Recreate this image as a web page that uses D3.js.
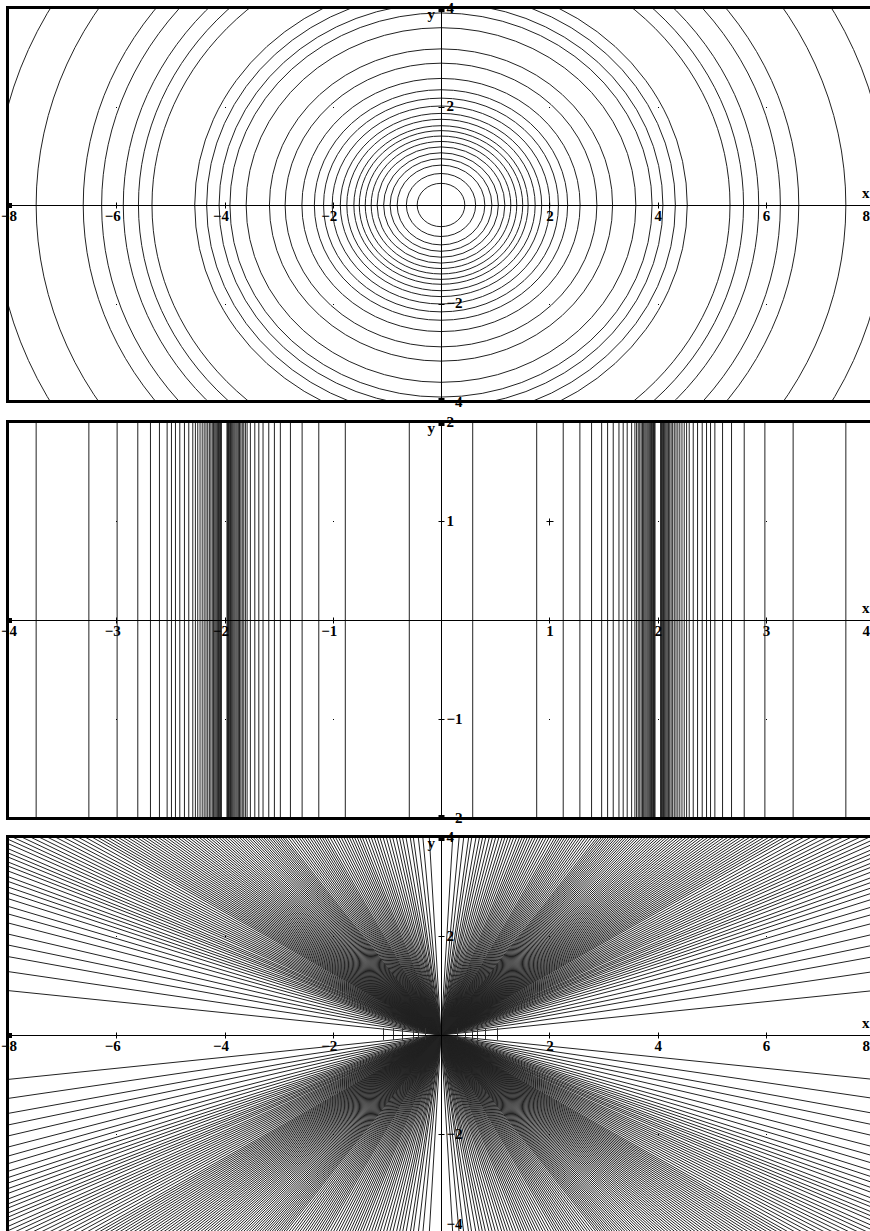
<!DOCTYPE html>
<html>
<head>
<meta charset="utf-8">
<script src="https://cdn.jsdelivr.net/npm/d3@7"></script>
<style>
  body { margin: 0; background: #fff; }
  svg { display: block; }
  .lbl { font-family: "Liberation Serif", serif; font-weight: bold; font-size: 15px; fill: #000; }
</style>
</head>
<body>
<div id="chart"></div>
<script>
// panel 1: radii of the circular contours (read where they cross the x axis)
const ringRadii = [0.44, 0.64, 0.81, 0.94, 1.06, 1.18, 1.29, 1.40, 1.51, 1.61, 1.74, 1.86,
  2.01, 2.17, 2.34, 2.57, 2.88, 3.17, 3.60, 3.90, 4.10, 4.33, 4.55, 5.34, 5.59, 5.87,
  6.27, 6.61, 7.48, 8.25];

// panel 2: x positions of the vertical contours (right half, mirrored to the left)
const stripeX = [0.293, 0.884, 1.129, 1.283, 1.391, 1.484, 1.539, 1.591, 1.644, 1.683,
  1.720, 1.761, 1.791, 1.807, 1.822, 1.836, 1.849, 1.861, 1.872, 1.883, 1.893, 1.903,
  1.912, 1.921, 1.929, 1.937, 1.944, 1.951, 1.957, 1.963, 1.968, 1.973, 1.977,
  2.029, 2.033, 2.038, 2.043, 2.049, 2.056, 2.063, 2.071, 2.080, 2.090, 2.101, 2.113,
  2.126, 2.140, 2.155, 2.171, 2.188, 2.206, 2.226, 2.247, 2.269, 2.293, 2.330, 2.370,
  2.413, 2.453, 2.490, 2.530, 2.601, 2.684, 2.801, 2.992, 3.253, 3.740];

// panel 3: angles (degrees from the x axis) of the straight contours through the origin
const rayAngles = [6.4, 9.1, 11.2, 12.8, 14.3, 15.8, 17.0, 18.0, 19.0, 19.8, 20.5, 21.2,
  21.8, 22.5, 23.1, 23.6, 24.2, 24.7, 25.2, 25.8, 26.3, 26.8, 27.3, 27.8, 28.3, 28.8,
  29.3, 29.8, 30.3, 30.8, 31.3, 31.8, 32.2, 32.6, 33.0, 33.4, 33.8, 34.2, 34.6, 35.0,
  35.4, 35.8, 36.2, 36.6, 37.0, 37.4, 37.8, 38.2, 38.6, 39.0, 39.4, 39.8, 40.2, 40.6,
  41.0, 41.4, 41.8, 42.2, 42.6, 43.0, 43.4, 43.8, 44.2, 44.6, 45.0, 45.4, 45.8, 46.2,
  46.6, 47.0, 47.4, 47.8, 48.2, 48.6, 49.0, 49.4, 49.8, 50.2, 50.6, 51.0, 51.4, 51.8,
  52.2, 52.6, 53.0, 53.4, 53.8, 54.2, 54.7, 55.2, 55.7, 56.2, 56.7, 57.2, 57.7, 58.2,
  58.7, 59.2, 59.7, 60.2, 60.7, 61.2, 61.7, 62.2, 62.8, 63.4, 64.0, 64.6, 65.2, 65.8,
  66.4, 67.0, 67.6, 68.2, 68.8, 69.4, 70.0, 70.7, 71.4, 72.1, 72.8, 73.5, 74.2, 75.0,
  75.8, 76.6, 77.4, 78.3, 79.1, 79.9, 80.8, 81.9, 82.7, 84.0, 85.2, 86.9];

// panel 3: short contour stubs that cross the x axis near the origin
const stubX = [-1.07, -0.89, -0.72, -0.52, -0.43, -0.30, 0.30, 0.45, 0.57, 0.66, 0.81, 1.03];

const ticksWideX = [-8, -6, -4, -2, 2, 4, 6, 8];
const ticksWideY = [-4, -2, 2, 4];
const ticksNarrowX = [-4, -3, -2, -1, 1, 2, 3, 4];
const ticksNarrowY = [-2, -1, 1, 2];
const cursorPoint = [1, 1];

const W = 870, H = 1231;

const svg = d3.select("#chart").append("svg")
  .attr("width", W).attr("height", H);

const panels = [
  { id: "p1", xDom: [-8, 8], yDom: [-4, 4], yRange: [402, 8], top: 6, bottom: 400, xt: ticksWideX, yt: ticksWideY },
  { id: "p2", xDom: [-4, 4], yDom: [-2, 2], yRange: [818, 422], top: 420, bottom: 817, xt: ticksNarrowX, yt: ticksNarrowY },
  { id: "p3", xDom: [-8, 8], yDom: [-4, 4], yRange: [1233, 837], top: 835, bottom: null, xt: ticksWideX, yt: ticksWideY }
];

panels.forEach(p => {
  p.x = d3.scaleLinear().domain(p.xDom).range([8, 874]);
  p.y = d3.scaleLinear().domain(p.yDom).range(p.yRange);
  const clipTop = p.top + 3, clipBot = p.bottom === null ? H : p.bottom;
  svg.append("clipPath").attr("id", "clip-" + p.id)
    .append("rect").attr("x", 9).attr("y", clipTop).attr("width", W - 9).attr("height", clipBot - clipTop);
  p.g = svg.append("g");
  p.plot = p.g.append("g").attr("clip-path", "url(#clip-" + p.id + ")");
});

// ---- panel 1: rings
const p1 = panels[0];
p1.plot.selectAll("ellipse").data(ringRadii).enter().append("ellipse")
  .attr("cx", p1.x(0)).attr("cy", p1.y(0))
  .attr("rx", d => p1.x(d) - p1.x(0))
  .attr("ry", d => p1.y(0) - p1.y(d))
  .attr("fill", "none").attr("stroke", "#222").attr("stroke-width", 1);

// ---- panel 2: vertical stripes
const p2 = panels[1];
const stripes = stripeX.concat(stripeX.map(v => -v));
p2.plot.selectAll("line.c").data(stripes).enter().append("line")
  .attr("class", "c")
  .attr("x1", d => p2.x(d)).attr("x2", d => p2.x(d))
  .attr("y1", p2.y(2)).attr("y2", p2.y(-2))
  .attr("stroke", "#222").attr("stroke-width", 1);

// ---- panel 3: rays through the origin
const p3 = panels[2];
const R = 12;
const rad = d => d * Math.PI / 180;
const rays = [];
rayAngles.forEach(a => { rays.push({ a: a, s: 1 }); rays.push({ a: a, s: -1 }); });
p3.plot.selectAll("line.c").data(rays).enter().append("line")
  .attr("class", "c")
  .attr("x1", d => p3.x(-R * Math.cos(rad(d.a))))
  .attr("y1", d => p3.y(d.s * R * Math.sin(rad(d.a))))
  .attr("x2", d => p3.x(R * Math.cos(rad(d.a))))
  .attr("y2", d => p3.y(-d.s * R * Math.sin(rad(d.a))))
  .attr("stroke", "#222").attr("stroke-width", 1);

p3.plot.selectAll("line.stub").data(stubX).enter().append("line")
  .attr("class", "stub")
  .attr("x1", d => Math.round(p3.x(d)) + 0.5).attr("x2", d => Math.round(p3.x(d)) + 0.5)
  .attr("y1", p3.y(0.14)).attr("y2", p3.y(-0.1))
  .attr("stroke", "#333").attr("stroke-width", 1);

// ---- axes, ticks, labels, dots, frames
panels.forEach(p => {
  const g = p.g;
  const x0 = Math.round(p.x(0)) + 0.5, y0 = Math.round(p.y(0)) + 0.5;
  const yTop = p.top + 3, yBot = p.bottom === null ? H : p.bottom;
  const lo = p.xDom[0], hi = p.xDom[1];

  // grid dots at tick crossings
  const dots = [];
  p.xt.forEach(a => p.yt.forEach(b => dots.push([a, b])));
  g.selectAll("rect.dot").data(dots).enter().append("rect")
    .attr("class", "dot")
    .attr("x", d => Math.round(p.x(d[0])))
    .attr("y", d => Math.round(p.y(d[1])))
    .attr("width", 1).attr("height", 1).attr("fill", "#000");

  g.append("line").attr("x1", 9).attr("x2", W).attr("y1", y0).attr("y2", y0)
    .attr("stroke", "#000").attr("stroke-width", 1);
  g.append("line").attr("x1", x0).attr("x2", x0).attr("y1", yTop).attr("y2", yBot)
    .attr("stroke", "#000").attr("stroke-width", 1);

  // x ticks
  g.selectAll("line.xt").data(p.xt).enter().append("line")
    .attr("class", "xt")
    .attr("x1", d => Math.round(p.x(d)) + 0.5).attr("x2", d => Math.round(p.x(d)) + 0.5)
    .attr("y1", y0 - 3).attr("y2", y0 + 3)
    .attr("stroke", "#000");
  g.selectAll("text.xl").data(p.xt).enter().append("text")
    .attr("class", "lbl xl")
    .attr("x", d => d === lo ? 1 : d === hi ? W : p.x(d) + 4.5)
    .attr("y", y0 + 15)
    .attr("text-anchor", d => d === lo ? "start" : "end")
    .text(d => (d < 0 ? "\u2212" : "") + Math.abs(d));

  // y ticks
  g.selectAll("line.yt").data(p.yt).enter().append("line")
    .attr("class", "yt")
    .attr("x1", x0 - 3).attr("x2", x0 + 3)
    .attr("y1", d => Math.round(p.y(d)) + 0.5).attr("y2", d => Math.round(p.y(d)) + 0.5)
    .attr("stroke", "#000");
  g.selectAll("text.yl").data(p.yt).enter().append("text")
    .attr("class", "lbl yl")
    .attr("x", x0 + 5).attr("y", d => Math.min(p.y(d), H - 7)).attr("dy", "0.33em")
    .attr("text-anchor", "start")
    .text(d => (d < 0 ? "\u2212" : "") + Math.abs(d));

  // axis names
  g.append("text").attr("class", "lbl").attr("x", 862).attr("y", y0 - 8).text("x");
  g.append("text").attr("class", "lbl").attr("x", x0 - 14).attr("y", yTop + 10).text("y");

  // heavy marks where the axes meet the frame
  g.append("rect").attr("x", 6).attr("y", y0 - 2.5).attr("width", 6).attr("height", 5).attr("fill", "#000");
  g.append("rect").attr("x", x0 - 3).attr("y", p.top).attr("width", 6).attr("height", 6).attr("fill", "#000");
  if (p.bottom !== null) {
    g.append("rect").attr("x", x0 - 3).attr("y", p.bottom - 2).attr("width", 6).attr("height", 5).attr("fill", "#000");
  }

  // frame
  g.append("rect").attr("x", 6).attr("y", p.top).attr("width", W - 6).attr("height", 3).attr("fill", "#000");
  g.append("rect").attr("x", 6).attr("y", p.top).attr("width", 3).attr("height", yBot + 3 - p.top).attr("fill", "#000");
  if (p.bottom !== null) {
    g.append("rect").attr("x", 6).attr("y", p.bottom).attr("width", W - 6).attr("height", 3).attr("fill", "#000");
  }
});

// cursor cross in the middle panel
const cx = Math.round(p2.x(cursorPoint[0])) + 0.5, cy = Math.round(p2.y(cursorPoint[1])) + 0.5;
p2.g.append("path")
  .attr("d", `M${cx - 3},${cy}H${cx + 4}M${cx},${cy - 3}V${cy + 4}`)
  .attr("stroke", "#000").attr("stroke-width", 1);
</script>
</body>
</html>
